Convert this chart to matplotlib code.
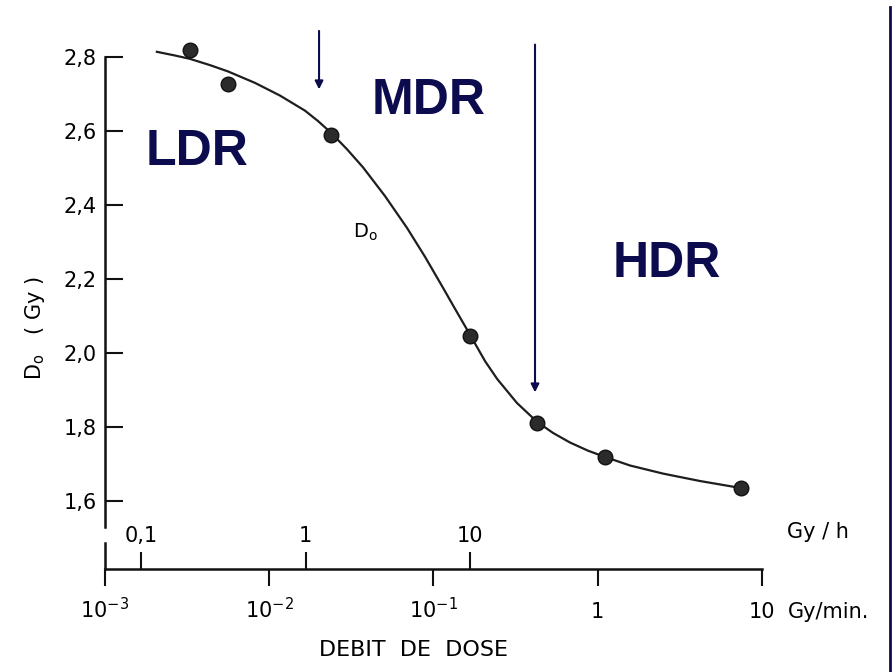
# Do en fonction du debit de dose (LDR / MDR / HDR)

import matplotlib
matplotlib.use('Agg')
import matplotlib.pyplot as plt
from matplotlib.lines import Line2D
from matplotlib.ticker import NullLocator

plt.rcParams['font.family'] = ['DejaVu Sans']
plt.rcParams['mathtext.fontset'] = 'dejavusans'

# points mesures (Gy/min, Gy)
debit_pts = [0.00329, 0.00561, 0.0238, 0.167, 0.427, 1.107, 7.45]
do_pts = [2.819, 2.727, 2.589, 2.046, 1.811, 1.719, 1.635]

# courbe
debit_courbe = [0.00207, 0.00267, 0.00329, 0.00436, 0.00561, 0.00819, 0.0116,
                0.0165, 0.0198, 0.0238, 0.0297, 0.0372, 0.0507, 0.0690,
                0.0888, 0.114, 0.135, 0.167, 0.206, 0.244, 0.322, 0.427,
                0.534, 0.678, 0.872, 1.107, 1.57, 2.50, 4.19, 7.45]
do_courbe = [2.814, 2.804, 2.795, 2.778, 2.761, 2.730, 2.696,
             2.655, 2.627, 2.595, 2.551, 2.502, 2.424, 2.338,
             2.260, 2.177, 2.120, 2.049, 1.978, 1.930, 1.865, 1.814,
             1.784, 1.758, 1.736, 1.719, 1.696, 1.674, 1.654, 1.635]

yticks = [1.6, 1.8, 2.0, 2.2, 2.4, 2.6, 2.8]
ytick_labels = ['1,6', '1,8', '2,0', '2,2', '2,4', '2,6', '2,8']
xticks_min = [1e-3, 1e-2, 1e-1, 1, 10]
xtick_labels_min = ['$10^{-3}$', '$10^{-2}$', '$10^{-1}$', '1', '10']
xticks_h = [0.1, 1, 10]
xtick_labels_h = ['0,1', '1', '10']

navy = '#0b0b4e'

fig = plt.figure(figsize=(8.92, 6.72), dpi=100)
ax = fig.add_axes([105 / 892, 103 / 672, 657 / 892, 512 / 672])

ax.plot(debit_courbe, do_courbe, color='#1e1e1e', lw=1.6, clip_on=False)
ax.plot(debit_pts, do_pts, 'o', ms=10.5, color='#2b2b2b', mec='#111111', mew=1,
        clip_on=False)

ax.set_xscale('log')
ax.set_xlim(1e-3, 10)
ax.set_ylim(1.4162, 2.8)

# axes
for s in ['top', 'right', 'left']:
    ax.spines[s].set_visible(False)
ax.spines['bottom'].set_linewidth(1.8)
ax.spines['bottom'].set_color('#111111')
# axe y coupe pres du bas
yax = ax.get_yaxis_transform()
ax.plot([0, 0], [1.530, 2.8], transform=yax, color='#111111', lw=1.8, clip_on=False)
ax.plot([0, 0], [1.4162, 1.486], transform=yax, color='#111111', lw=1.8, clip_on=False)

ax.set_yticks(yticks)
ax.set_yticklabels(ytick_labels)
ax.tick_params(axis='y', direction='in', length=13, width=1.5, pad=6,
               labelsize=15, color='#111111')

ax.set_xticks(xticks_min)
ax.set_xticklabels(xtick_labels_min)
ax.xaxis.set_minor_locator(NullLocator())
ax.tick_params(axis='x', direction='out', length=12.5, width=1.5, pad=23,
               labelsize=15, color='#111111')
for lab in ax.get_xticklabels():
    lab.set_va('baseline')

# echelle Gy/h sur la meme ligne
secax = ax.secondary_xaxis(0, functions=(lambda v: v * 60, lambda v: v / 60))
secax.set_alignment('top')
for s in secax.spines.values():
    s.set_visible(False)
secax.set_xticks(xticks_h)
secax.set_xticklabels(xtick_labels_h)
secax.xaxis.set_minor_locator(NullLocator())
secax.tick_params(axis='x', direction='out', length=12.5, width=1.5, pad=7,
                  labelsize=15, color='#111111')
for lab in secax.get_xticklabels():
    lab.set_va('baseline')

fig.text(787 / 892, 1 - 532 / 672, 'Gy / h', ha='left', va='center', fontsize=15)
fig.text(788 / 892, 1 - 612 / 672, 'Gy/min.', ha='left', va='center', fontsize=15)

ax.set_xlabel('DEBIT  DE  DOSE', fontsize=16, va='center')
ax.xaxis.set_label_coords(0.4703, -0.1582)
ax.set_ylabel(r'D$_\mathregular{o}$   ( Gy )', fontsize=15, va='center')
ax.yaxis.set_label_coords(-0.1065, 0.4707)

ax.text(0.0383, 2.327, r'D$_\mathregular{o}$', fontsize=14, ha='center', va='center')

# zones
ax.text(0.00363, 2.543, 'LDR', fontsize=36, fontweight='bold', color=navy,
        family='Liberation Sans', ha='center', va='center')
ax.text(0.094, 2.681, 'MDR', fontsize=36, fontweight='bold', color=navy,
        family='Liberation Sans', ha='center', va='center')
ax.text(2.64, 2.241, 'HDR', fontsize=36, fontweight='bold', color=navy,
        family='Liberation Sans', ha='center', va='center')

# fleches
ax.annotate('', xy=(0.0201, 2.705), xytext=(0.0201, 2.878),
            arrowprops=dict(arrowstyle='-|>', color=navy, lw=1.5, mutation_scale=12),
            annotation_clip=False)
ax.annotate('', xy=(0.415, 1.886), xytext=(0.415, 2.841),
            arrowprops=dict(arrowstyle='-|>', color=navy, lw=1.5, mutation_scale=12),
            annotation_clip=False)

fig.add_artist(Line2D([890 / 892, 890 / 892], [0, 1 - 7 / 672],
                      transform=fig.transFigure, color=navy, lw=2))

fig.savefig('out.png', dpi=100)
